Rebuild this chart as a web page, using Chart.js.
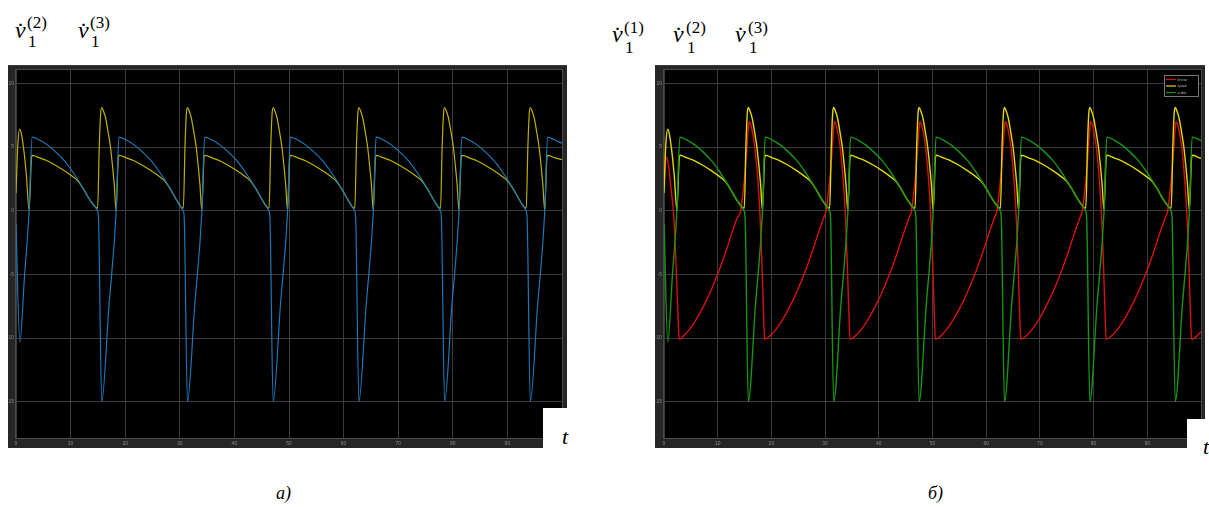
<!DOCTYPE html>
<html><head><meta charset="utf-8">
<script src="https://cdn.jsdelivr.net/npm/chart.js@4.4.1/dist/chart.umd.min.js"></script>
<style>
html,body{margin:0;padding:0;background:#fff;width:1209px;height:507px;overflow:hidden;position:relative;font-family:'Liberation Serif','Times New Roman',serif;}
.abs{position:absolute;line-height:1;white-space:nowrap;color:#000;font-family:'Liberation Serif','Times New Roman',serif;}
.v{font-style:italic;font-size:24px;}
.s{font-size:17px;}
.cap{font-style:italic;font-size:18px;}
canvas{position:absolute;}
.wbox{position:absolute;background:#fff;}
</style></head><body>
<canvas id="left" width="559" height="383" style="left:8px;top:65px;"></canvas>
<canvas id="right" width="550" height="383" style="left:655px;top:65px;"></canvas>
<div class="wbox" style="left:543px;top:408px;width:40px;height:50px;"></div>
<div class="wbox" style="left:1187px;top:419px;width:30px;height:45px;"></div>

<!-- left header -->
<span class="abs v" style="left:15px;top:18px;">v&#775;</span>
<span class="abs s" style="left:27px;top:14px;">(2)</span>
<span class="abs s" style="left:28px;top:33px;">1</span>
<span class="abs v" style="left:78px;top:18px;">v&#775;</span>
<span class="abs s" style="left:90px;top:14px;">(3)</span>
<span class="abs s" style="left:91px;top:33px;">1</span>
<!-- right header -->
<span class="abs v" style="left:612px;top:22px;">v&#775;</span>
<span class="abs s" style="left:624px;top:19px;">(1)</span>
<span class="abs s" style="left:625px;top:39px;">1</span>
<span class="abs v" style="left:673px;top:22px;">v&#775;</span>
<span class="abs s" style="left:686px;top:19px;">(2)</span>
<span class="abs s" style="left:687px;top:39px;">1</span>
<span class="abs v" style="left:735px;top:22px;">v&#775;</span>
<span class="abs s" style="left:748px;top:19px;">(3)</span>
<span class="abs s" style="left:749px;top:39px;">1</span>

<span class="abs v" style="left:562px;top:426px;font-size:22px;">t</span>
<span class="abs v" style="left:1203px;top:436px;font-size:22px;">t</span>
<span class="abs cap" style="left:276px;top:484px;">а)</span>
<span class="abs cap" style="left:928px;top:484px;">б)</span>

<script>
const xTicks = [0,10,20,30,40,50,60,70,80,90];
const yTicks = [-15,-10,-5,0,5,10];
const legendLabels = ['linear','quad','cubic'];

const leftQuad = [[0,1.4],[0.35,5.3],[0.7,6.4],[1.05,5.9],[1.5,4.5],[1.9,2.8],[2.4,0.05],[2.85,4.2],[3.0,4.35],[4.3,4.15],[5.8,3.9],[7.3,3.55],[8.8,3.15],[10.3,2.7],[11.3,2.35],[12.3,1.75],[13.3,1.0],
[14.5,0.3],[14.95,0.2],[15.25,5.0],[15.5,7.6],[15.7,8.1],[16.0,7.85],[16.4,7.3],[16.9,6.1],[17.3,5.0],[17.7,3.4],[18.0,2.0],[18.32,0.05],[18.75,4.2],[18.9,4.35],[20.2,4.15],[21.7,3.9],[23.2,3.55],[24.7,3.15],[26.2,2.7],[27.2,2.35],[28.2,1.75],[29.2,1.0],
[30.2,0.3],[30.65,0.2],[30.95,5.0],[31.2,7.6],[31.4,8.1],[31.7,7.85],[32.1,7.3],[32.6,6.1],[33.0,5.0],[33.4,3.4],[33.7,2.0],[34.02,0.05],[34.45,4.2],[34.6,4.35],[35.9,4.15],[37.4,3.9],[38.9,3.55],[40.4,3.15],[41.9,2.7],[42.9,2.35],[43.9,1.75],[44.9,1.0],
[45.9,0.3],[46.35,0.2],[46.65,5.0],[46.9,7.6],[47.1,8.1],[47.4,7.85],[47.8,7.3],[48.3,6.1],[48.7,5.0],[49.1,3.4],[49.4,2.0],[49.72,0.05],[50.15,4.2],[50.3,4.35],[51.6,4.15],[53.1,3.9],[54.6,3.55],[56.1,3.15],[57.6,2.7],[58.6,2.35],[59.6,1.75],[60.6,1.0],
[61.6,0.3],[62.05,0.2],[62.35,5.0],[62.6,7.6],[62.8,8.1],[63.1,7.85],[63.5,7.3],[64.0,6.1],[64.4,5.0],[64.8,3.4],[65.1,2.0],[65.42,0.05],[65.85,4.2],[66.0,4.35],[67.3,4.15],[68.8,3.9],[70.3,3.55],[71.8,3.15],[73.3,2.7],[74.3,2.35],[75.3,1.75],[76.3,1.0],
[77.3,0.3],[77.75,0.2],[78.05,5.0],[78.3,7.6],[78.5,8.1],[78.8,7.85],[79.2,7.3],[79.7,6.1],[80.1,5.0],[80.5,3.4],[80.8,2.0],[81.12,0.05],[81.55,4.2],[81.7,4.35],[83.0,4.15],[84.5,3.9],[86.0,3.55],[87.5,3.15],[89.0,2.7],[90.0,2.35],[91.0,1.75],[92.0,1.0],
[93.0,0.3],[93.45,0.2],[93.75,5.0],[94.0,7.6],[94.2,8.1],[94.5,7.85],[94.9,7.3],[95.4,6.1],[95.8,5.0],[96.2,3.4],[96.5,2.0],[96.82,0.05],[97.25,4.2],[97.4,4.35],[98.7,4.15],[100,4.0]];

const leftCubic = [[0,-1.0],[0.7,-10.3],[1.55,-5.2],[2.4,0],[2.95,5.78],[4.3,5.55],[5.8,5.15],[7.3,4.6],[8.8,3.95],[10.3,3.1],[11.3,2.45],[12.3,1.75],[13.3,1.0],
[14.5,0.3],[14.9,0],[15.1,-0.5],[15.7,-15],[17.0,-7.6],[18.35,0],[18.85,5.78],[20.2,5.55],[21.7,5.15],[23.2,4.6],[24.7,3.95],[26.2,3.1],[27.2,2.45],[28.2,1.75],[29.2,1.0],
[30.2,0.3],[30.6,0],[30.8,-0.5],[31.4,-15],[32.7,-7.6],[34.05,0],[34.55,5.78],[35.9,5.55],[37.4,5.15],[38.9,4.6],[40.4,3.95],[41.9,3.1],[42.9,2.45],[43.9,1.75],[44.9,1.0],
[45.9,0.3],[46.3,0],[46.5,-0.5],[47.1,-15],[48.4,-7.6],[49.75,0],[50.25,5.78],[51.6,5.55],[53.1,5.15],[54.6,4.6],[56.1,3.95],[57.6,3.1],[58.6,2.45],[59.6,1.75],[60.6,1.0],
[61.6,0.3],[62.0,0],[62.2,-0.5],[62.8,-15],[64.1,-7.6],[65.45,0],[65.95,5.78],[67.3,5.55],[68.8,5.15],[70.3,4.6],[71.8,3.95],[73.3,3.1],[74.3,2.45],[75.3,1.75],[76.3,1.0],
[77.3,0.3],[77.7,0],[77.9,-0.5],[78.5,-15],[79.8,-7.6],[81.15,0],[81.65,5.78],[83.0,5.55],[84.5,5.15],[86.0,4.6],[87.5,3.95],[89.0,3.1],[90.0,2.45],[91.0,1.75],[92.0,1.0],
[93.0,0.3],[93.4,0],[93.6,-0.5],[94.2,-15],[95.5,-7.6],[96.85,0],[97.35,5.78],[98.7,5.55],[100,5.3]];

const rightLinear = [[0,1.8],[0.25,3.6],[0.5,4.2],[0.8,3.7],[1.2,2.2],[1.6,0.6],[1.9,-1.0],[2.2,-3.8],[2.5,-7.0],[2.75,-9.6],[2.85,-10.1],[3.6,-9.85],[4.6,-9.4],[5.6,-8.8],[6.6,-8.1],[7.6,-7.3],[8.6,-6.4],[9.6,-5.4],[10.6,-4.3],[11.6,-3.1],[12.6,-1.8],[13.6,-0.6],
[14.3,0.0],[14.7,1.4],[15.1,3.0],[15.4,4.7],[15.7,6.5],[15.85,7.0],[16.3,6.5],[16.9,5.0],[17.3,3.3],[17.7,1.0],[18.0,-1.5],[18.3,-5.0],[18.55,-8.3],[18.75,-10.1],[19.7,-9.85],[20.7,-9.4],[21.7,-8.8],[22.7,-8.1],[23.7,-7.3],[24.7,-6.4],[25.7,-5.4],[26.7,-4.3],[27.7,-3.1],[28.7,-1.8],[29.7,-0.6],
[30.2,0.0],[30.6,1.4],[31.0,3.0],[31.3,4.7],[31.6,6.5],[31.75,7.0],[32.2,6.5],[32.8,5.0],[33.2,3.3],[33.6,1.0],[33.9,-1.5],[34.2,-5.0],[34.45,-8.3],[34.65,-10.1],[35.6,-9.85],[36.6,-9.4],[37.6,-8.8],[38.6,-8.1],[39.6,-7.3],[40.6,-6.4],[41.6,-5.4],[42.6,-4.3],[43.6,-3.1],[44.6,-1.8],[45.6,-0.6],
[46.1,0.0],[46.5,1.4],[46.9,3.0],[47.2,4.7],[47.5,6.5],[47.65,7.0],[48.1,6.5],[48.7,5.0],[49.1,3.3],[49.5,1.0],[49.8,-1.5],[50.1,-5.0],[50.35,-8.3],[50.55,-10.1],[51.5,-9.85],[52.5,-9.4],[53.5,-8.8],[54.5,-8.1],[55.5,-7.3],[56.5,-6.4],[57.5,-5.4],[58.5,-4.3],[59.5,-3.1],[60.5,-1.8],[61.5,-0.6],
[62.0,0.0],[62.4,1.4],[62.8,3.0],[63.1,4.7],[63.4,6.5],[63.55,7.0],[64.0,6.5],[64.6,5.0],[65.0,3.3],[65.4,1.0],[65.7,-1.5],[66.0,-5.0],[66.25,-8.3],[66.45,-10.1],[67.4,-9.85],[68.4,-9.4],[69.4,-8.8],[70.4,-8.1],[71.4,-7.3],[72.4,-6.4],[73.4,-5.4],[74.4,-4.3],[75.4,-3.1],[76.4,-1.8],[77.4,-0.6],
[77.9,0.0],[78.3,1.4],[78.7,3.0],[79.0,4.7],[79.3,6.5],[79.45,7.0],[79.9,6.5],[80.5,5.0],[80.9,3.3],[81.3,1.0],[81.6,-1.5],[81.9,-5.0],[82.15,-8.3],[82.35,-10.1],[83.3,-9.85],[84.3,-9.4],[85.3,-8.8],[86.3,-8.1],[87.3,-7.3],[88.3,-6.4],[89.3,-5.4],[90.3,-4.3],[91.3,-3.1],[92.3,-1.8],[93.3,-0.6],
[93.8,0.0],[94.2,1.4],[94.6,3.0],[94.9,4.7],[95.2,6.5],[95.35,7.0],[95.8,6.5],[96.4,5.0],[96.8,3.3],[97.2,1.0],[97.5,-1.5],[97.8,-5.0],[98.05,-8.3],[98.25,-10.1],[99.2,-9.85],[100,-9.5]];

const rightQuad = [[0,1.4],[0.35,5.3],[0.7,6.4],[1.05,5.9],[1.5,4.5],[1.9,2.8],[2.4,0.05],[2.85,4.2],[3.0,4.35],[4.3,4.15],[5.8,3.9],[7.3,3.55],[8.8,3.15],[10.3,2.7],[11.3,2.35],[12.3,1.75],[13.3,1.0],
[14.5,0.3],[14.95,0.2],[15.25,5.0],[15.5,7.6],[15.7,8.1],[16.0,7.85],[16.4,7.3],[16.9,6.1],[17.3,5.0],[17.7,3.4],[18.0,2.0],[18.32,0.05],[18.75,4.2],[18.9,4.35],[20.2,4.15],[21.7,3.9],[23.2,3.55],[24.7,3.15],[26.2,2.7],[27.2,2.35],[28.2,1.75],[29.2,1.0],
[30.4,0.3],[30.85,0.2],[31.15,5.0],[31.4,7.6],[31.6,8.1],[31.9,7.85],[32.3,7.3],[32.8,6.1],[33.2,5.0],[33.6,3.4],[33.9,2.0],[34.22,0.05],[34.65,4.2],[34.8,4.35],[36.1,4.15],[37.6,3.9],[39.1,3.55],[40.6,3.15],[42.1,2.7],[43.1,2.35],[44.1,1.75],[45.1,1.0],
[46.3,0.3],[46.75,0.2],[47.05,5.0],[47.3,7.6],[47.5,8.1],[47.8,7.85],[48.2,7.3],[48.7,6.1],[49.1,5.0],[49.5,3.4],[49.8,2.0],[50.12,0.05],[50.55,4.2],[50.7,4.35],[52.0,4.15],[53.5,3.9],[55.0,3.55],[56.5,3.15],[58.0,2.7],[59.0,2.35],[60.0,1.75],[61.0,1.0],
[62.2,0.3],[62.65,0.2],[62.95,5.0],[63.2,7.6],[63.4,8.1],[63.7,7.85],[64.1,7.3],[64.6,6.1],[65.0,5.0],[65.4,3.4],[65.7,2.0],[66.02,0.05],[66.45,4.2],[66.6,4.35],[67.9,4.15],[69.4,3.9],[70.9,3.55],[72.4,3.15],[73.9,2.7],[74.9,2.35],[75.9,1.75],[76.9,1.0],
[78.1,0.3],[78.55,0.2],[78.85,5.0],[79.1,7.6],[79.3,8.1],[79.6,7.85],[80.0,7.3],[80.5,6.1],[80.9,5.0],[81.3,3.4],[81.6,2.0],[81.92,0.05],[82.35,4.2],[82.5,4.35],[83.8,4.15],[85.3,3.9],[86.8,3.55],[88.3,3.15],[89.8,2.7],[90.8,2.35],[91.8,1.75],[92.8,1.0],
[94.0,0.3],[94.45,0.2],[94.75,5.0],[95.0,7.6],[95.2,8.1],[95.5,7.85],[95.9,7.3],[96.4,6.1],[96.8,5.0],[97.2,3.4],[97.5,2.0],[97.82,0.05],[98.25,4.2],[98.4,4.35],[99.7,4.15],[100,4.12]];

const rightCubic = [[0,-1.0],[0.7,-10.3],[1.55,-5.2],[2.4,0],[2.95,5.78],[4.3,5.55],[5.8,5.15],[7.3,4.6],[8.8,3.95],[10.3,3.1],[11.3,2.45],[12.3,1.75],[13.3,1.0],
[14.5,0.3],[14.9,0],[15.1,-0.5],[15.7,-15],[17.0,-7.6],[18.35,0],[18.85,5.78],[20.2,5.55],[21.7,5.15],[23.2,4.6],[24.7,3.95],[26.2,3.1],[27.2,2.45],[28.2,1.75],[29.2,1.0],
[30.4,0.3],[30.8,0],[31.0,-0.5],[31.6,-15],[32.9,-7.6],[34.25,0],[34.75,5.78],[36.1,5.55],[37.6,5.15],[39.1,4.6],[40.6,3.95],[42.1,3.1],[43.1,2.45],[44.1,1.75],[45.1,1.0],
[46.3,0.3],[46.7,0],[46.9,-0.5],[47.5,-15],[48.8,-7.6],[50.15,0],[50.65,5.78],[52.0,5.55],[53.5,5.15],[55.0,4.6],[56.5,3.95],[58.0,3.1],[59.0,2.45],[60.0,1.75],[61.0,1.0],
[62.2,0.3],[62.6,0],[62.8,-0.5],[63.4,-15],[64.7,-7.6],[66.05,0],[66.55,5.78],[67.9,5.55],[69.4,5.15],[70.9,4.6],[72.4,3.95],[73.9,3.1],[74.9,2.45],[75.9,1.75],[76.9,1.0],
[78.1,0.3],[78.5,0],[78.7,-0.5],[79.3,-15],[80.6,-7.6],[81.95,0],[82.45,5.78],[83.8,5.55],[85.3,5.15],[86.8,4.6],[88.3,3.95],[89.8,3.1],[90.8,2.45],[91.8,1.75],[92.8,1.0],
[94.0,0.3],[94.4,0],[94.6,-0.5],[95.2,-15],[96.5,-7.6],[97.85,0],[98.35,5.78],[99.7,5.57],[100,5.5]];

const toXY = arr => arr.map(([x,y]) => ({x, y}));

const framePlugin = {
  id: 'frame',
  beforeDraw(chart) {
    const {ctx, chartArea: a, width, height} = chart;
    ctx.save();
    ctx.fillStyle = '#262626';
    ctx.fillRect(0, 0, width, height);
    ctx.fillStyle = '#3a3a3a';
    ctx.fillRect(0, 0, width, 1);
    ctx.fillStyle = '#000';
    ctx.fillRect(a.left, a.top, a.right - a.left, a.bottom - a.top);
    ctx.restore();
  },
  afterDraw(chart) {
    const {ctx, chartArea: a} = chart;
    ctx.save();
    ctx.strokeStyle = '#4a4a4a';
    ctx.lineWidth = 1;
    ctx.strokeRect(a.left - 0.5, a.top - 0.5, a.right - a.left + 1, a.bottom - a.top + 1);
    ctx.restore();
    const o = chart.options.plugins.boxLegend;
    if (o && o.show) {
      const x0 = a.right - 37, y0 = a.top + 5, w = 34, h = 21;
      ctx.save();
      ctx.fillStyle = '#000';
      ctx.fillRect(x0, y0, w, h);
      ctx.strokeStyle = '#777';
      ctx.strokeRect(x0 + 0.5, y0 + 0.5, w, h);
      ctx.font = '4px "Liberation Sans", sans-serif';
      ctx.textBaseline = 'middle';
      o.items.forEach((it, i) => {
        const yy = y0 + 4.5 + i * 6.5;
        ctx.strokeStyle = it.color;
        ctx.lineWidth = 1.2;
        ctx.beginPath(); ctx.moveTo(x0 + 2, yy); ctx.lineTo(x0 + 12, yy); ctx.stroke();
        ctx.fillStyle = '#aaa';
        ctx.fillText(it.label, x0 + 13.5, yy);
      });
      ctx.restore();
    }
  }
};

function makeOptions(yw, rightPad, legend) {
  return {
    responsive: false,
    animation: false,
    devicePixelRatio: 1,
    events: [],
    layout: {padding: {top: 3, right: rightPad, left: 0, bottom: 0}},
    elements: {point: {radius: 0}, line: {cubicInterpolationMode: 'monotone', borderWidth: 1.3}},
    plugins: {legend: {display: false}, tooltip: {enabled: false}, boxLegend: legend},
    scales: {
      x: {
        type: 'linear', min: 0, max: 100,
        afterBuildTicks: s => { s.ticks = xTicks.map(v => ({value: v})); },
        afterFit: s => { s.height = 10; },
        grid: {color: '#3a3a3a', lineWidth: 1, drawTicks: false},
        border: {display: false},
        ticks: {autoSkip: false, maxRotation: 0, padding: 3, color: '#8a8a8a', font: {size: 5, family: 'Liberation Sans'}}
      },
      y: {
        type: 'linear', min: -17.85, max: 11.05,
        afterBuildTicks: s => { s.ticks = yTicks.map(v => ({value: v})); },
        afterFit: s => { s.width = yw; },
        grid: {color: '#3a3a3a', lineWidth: 1, drawTicks: false},
        border: {display: false},
        ticks: {padding: 2, color: '#8a8a8a', font: {size: 5, family: 'Liberation Sans'}}
      }
    }
  };
}

new Chart(document.getElementById('left'), {
  type: 'line',
  data: {datasets: [
    {label: 'cubic', data: toXY(leftCubic), borderColor: '#1c77b6', borderWidth: 1.2},
    {label: 'quad', data: toXY(leftQuad), borderColor: '#bdb000', borderWidth: 1.2}
  ]},
  options: makeOptions(8, 5, {show: false}),
  plugins: [framePlugin]
});

new Chart(document.getElementById('right'), {
  type: 'line',
  data: {datasets: [
    {label: legendLabels[2], data: toXY(rightCubic), borderColor: '#169416', borderWidth: 1.4},
    {label: legendLabels[1], data: toXY(rightQuad), borderColor: '#e2d800', borderWidth: 1.4},
    {label: legendLabels[0], data: toXY(rightLinear), borderColor: '#d81010', borderWidth: 1.4}
  ]},
  options: makeOptions(9, 4, {show: true, items: [
    {label: legendLabels[0], color: '#d81010'},
    {label: legendLabels[1], color: '#e2d800'},
    {label: legendLabels[2], color: '#169416'}
  ]}),
  plugins: [framePlugin]
});
</script>
</body></html>
